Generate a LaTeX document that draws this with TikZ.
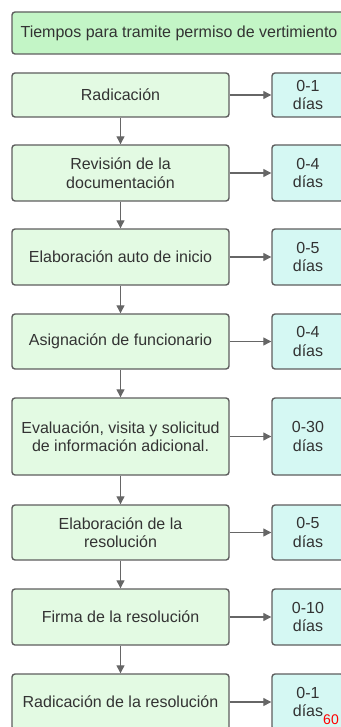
\documentclass[tikz,border=0pt]{standalone}
\usepackage{fontspec}
\setmainfont{Liberation Sans}
\usetikzlibrary{arrows.meta}
\definecolor{edgegray}{HTML}{5E5E5E}
\definecolor{arrowgray}{HTML}{666666}
\definecolor{textgray}{HTML}{333333}
\definecolor{titlegreen}{HTML}{C3F5C6}
\definecolor{stepgreen}{HTML}{E3FAE3}
\definecolor{daycyan}{HTML}{D5F8F3}
\begin{document}
\begin{tikzpicture}[x=1pt,y=-1pt,font=\fontsize{16}{18.5}\selectfont,text=textgray]
        \tikzset{box/.style={draw=edgegray,line width=1.4pt,rounded corners=3pt,align=center,inner sep=1pt},
                 stepbox/.style={box,fill=stepgreen,minimum width=217pt},
                 daybox/.style={box,fill=daycyan,minimum width=72pt},
                 flow/.style={draw=arrowgray,line width=1.2pt,-{Triangle[length=8pt,width=8pt]}}}
        \useasboundingbox (0,0) rectangle (340,727);
        \node[box,fill=titlegreen,minimum width=334pt,minimum height=42pt](title) at (179,33) {Tiempos para tramite permiso de vertimiento};
        % pasos del tramite
        \node[stepbox,minimum height=44pt](rad) at (120.5,95) {Radicación};
        \node[stepbox,minimum height=56pt](rev) at (120.5,173) {Revisión de la\\documentación};
        \node[stepbox,minimum height=56pt](auto) at (120.5,257) {Elaboración auto de inicio};
        \node[stepbox,minimum height=55pt](asig) at (120.5,341.5) {Asignación de funcionario};
        \node[stepbox,minimum height=77pt](eval) at (120.5,436.5) {Evaluación, visita y solicitud\\de información adicional.};
        \node[stepbox,minimum height=55pt](elab) at (120.5,532.5) {Elaboración de la\\resolución};
        \node[stepbox,minimum height=56pt](firma) at (120.5,617) {Firma de la resolución};
        \node[stepbox,minimum height=56pt](radres) at (120.5,702) {Radicación de la resolución};
        % dias por paso
        \node[daybox,minimum height=44pt](radD) at (308,95) {0-1\\días};
        \node[daybox,minimum height=56pt](revD) at (308,173) {0-4\\días};
        \node[daybox,minimum height=56pt](autoD) at (308,257) {0-5\\días};
        \node[daybox,minimum height=55pt](asigD) at (308,341.5) {0-4\\días};
        \node[daybox,minimum height=77pt](evalD) at (308,436.5) {0-30\\días};
        \node[daybox,minimum height=55pt](elabD) at (308,532.5) {0-5\\días};
        \node[daybox,minimum height=56pt](firmaD) at (308,617) {0-10\\días};
        \node[daybox,minimum height=56pt](radresD) at (308,702) {0-1\\días};
        \node[text=red,font=\fontsize{14}{16}\selectfont,inner sep=0pt](total) at (331,719.5) {60};
        \draw[flow] (rad) -- (rev);
        \draw[flow] (rev) -- (auto);
        \draw[flow] (auto) -- (asig);
        \draw[flow] (asig) -- (eval);
        \draw[flow] (eval) -- (elab);
        \draw[flow] (elab) -- (firma);
        \draw[flow] (firma) -- (radres);
        \draw[flow] (rad) -- (radD);
        \draw[flow] (rev) -- (revD);
        \draw[flow] (auto) -- (autoD);
        \draw[flow] (asig) -- (asigD);
        \draw[flow] (eval) -- (evalD);
        \draw[flow] (elab) -- (elabD);
        \draw[flow] (firma) -- (firmaD);
        \draw[flow] (radres) -- (radresD);
    \end{tikzpicture}
\end{document}
